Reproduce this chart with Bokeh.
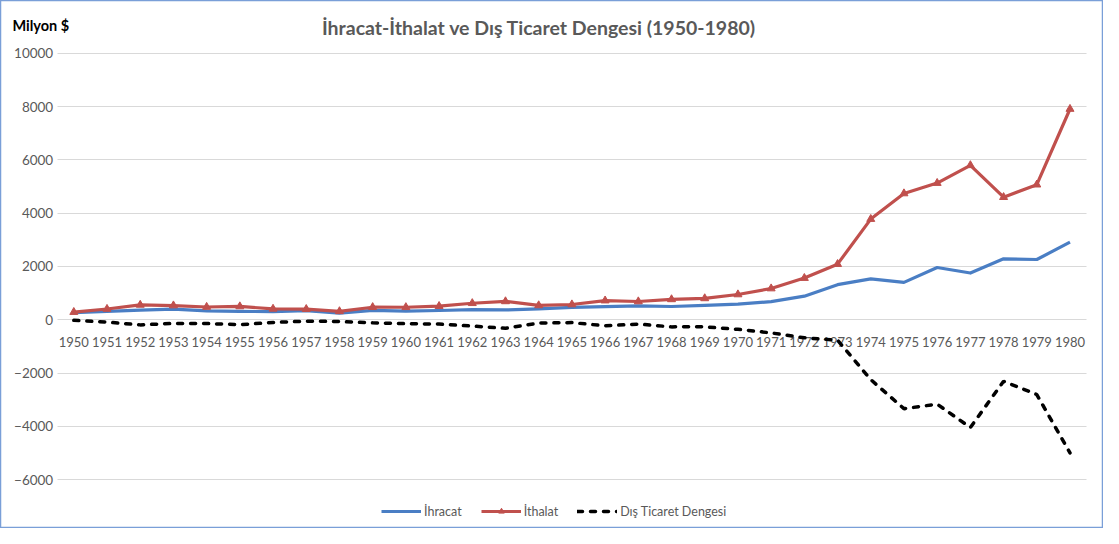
from bokeh.plotting import figure
from bokeh.models import Range1d, Label, Legend, LegendItem, FixedTicker
from bokeh.core.properties import value
from bokeh.embed import file_html
from bokeh.resources import INLINE

years = list(range(1950, 1981))
year_labels = {y: str(y) for y in years}
ihracat = [263, 314, 363, 396, 335, 313, 305, 345, 247, 354, 321, 347, 381, 368, 411, 464,
           490, 523, 496, 537, 588, 677, 885, 1317, 1532, 1401, 1960, 1753, 2288, 2261, 2910]
ithalat = [286, 402, 556, 533, 478, 498, 407, 397, 315, 470, 468, 510, 619, 688, 537, 572,
           718, 685, 764, 801, 948, 1171, 1563, 2086, 3778, 4739, 5129, 5796, 4599, 5069, 7909]
denge = [-23, -88, -193, -137, -143, -185, -102, -52, -68, -116, -147, -163, -238, -320, -126, -108,
         -228, -162, -268, -264, -360, -494, -678, -769, -2246, -3338, -3169, -4043, -2311, -2808, -4999]
y_ticks = [-6000, -4000, -2000, 0, 2000, 4000, 6000, 8000, 10000]

FONT = "Lato"
GRAY = "#595959"
W, H = 1103, 528
# plot-area box inside the chart (pixels)
PL, PR, PT, PB = 56.7, 1086.1, 52.8, 479.1

x0, x1 = years[0] - 0.5, years[-1] + 0.5
xs = (PR - PL) / (x1 - x0)
y0, y1 = y_ticks[0], y_ticks[-1]
ys = (PB - PT) / (y1 - y0)

p = figure(width=W, height=H, output_backend="svg", toolbar_location=None,
           x_range=Range1d(x0 - PL / xs, x1 + (W - PR) / xs),
           y_range=Range1d(y0 - (H - PB) / ys, y1 + PT / ys),
           min_border_left=0, min_border_right=0, min_border_top=0, min_border_bottom=0)
p.outline_line_color = "#7A9FD8"
p.outline_line_width = 1.5
p.background_fill_color = "white"
p.border_fill_color = "white"
p.xgrid.visible = False

# x axis sitting on the zero line
p.xaxis.fixed_location = 0
p.xaxis.ticker = FixedTicker(ticks=years)
p.xaxis.major_label_overrides = year_labels
p.xaxis.axis_line_color = None
p.xaxis.major_tick_line_color = None
p.xaxis.minor_tick_line_color = None
p.xaxis.major_label_standoff = 11
p.xaxis.major_label_text_font = FONT
p.xaxis.major_label_text_font_size = "13px"
p.xaxis.major_label_text_color = GRAY
p.xaxis.level = "underlay"

# y axis near the left edge of the plot area
p.yaxis.fixed_location = x0 + 7 / xs
p.yaxis.ticker = FixedTicker(ticks=y_ticks)
p.yaxis.axis_line_color = None
p.yaxis.major_tick_line_color = None
p.yaxis.minor_tick_line_color = None
p.yaxis.major_label_standoff = 5
p.yaxis.major_label_text_font = FONT
p.yaxis.major_label_text_font_size = "13.5px"
p.yaxis.major_label_text_color = GRAY

p.ygrid.grid_line_color = "#D9D9D9"
p.ygrid.grid_line_width = 1
try:
    p.ygrid.cross_bounds = (x0, x1)
except Exception:
    p.ygrid.visible = False
    p.segment(x0=[x0] * len(y_ticks), x1=[x1] * len(y_ticks), y0=y_ticks, y1=y_ticks,
              line_color="#D9D9D9", line_width=1, level="underlay")

r1 = p.line(years, ihracat, line_color="#4A7EC4", line_width=3.2, line_join="round")
r2 = p.line(years, ithalat, line_color="#C0504D", line_width=3.2, line_join="round")
r2m = p.scatter(years, ithalat, marker="triangle", size=8, fill_color="#C0504D", line_color="#C0504D")
r3 = p.line(years, denge, line_color="black", line_width=3.5, line_dash="5 8", line_cap="round")

legend = Legend(items=[LegendItem(label="İhracat", renderers=[r1]),
                       LegendItem(label="İthalat", renderers=[r2, r2m]),
                       LegendItem(label="Dış Ticaret Dengesi", renderers=[r3])],
                orientation="horizontal", location=(381, H - 507.5 - 11),
                label_text_font=FONT, label_text_font_size="12.5px", label_text_color=GRAY,
                glyph_width=40, glyph_height=14, spacing=19, label_standoff=3,
                border_line_color=None, background_fill_alpha=0, margin=0, padding=4)
p.add_layout(legend)

p.add_layout(Label(x=538.6, y=H - 27.4, x_units="screen", y_units="screen",
                   text="İhracat-İthalat ve Dış Ticaret Dengesi (1950-1980)",
                   text_align="center", text_baseline="middle", text_font=FONT,
                   text_font_size="19.5px", text_font_style="bold", text_color=GRAY))
p.add_layout(Label(x=11.9, y=H - 25.4, x_units="screen", y_units="screen", text="Milyon $",
                   text_align="left", text_baseline="middle", text_font=FONT,
                   text_font_size="14.5px", text_font_style="bold", text_color="black"))

open("out.html", "w").write(file_html(p, INLINE))
